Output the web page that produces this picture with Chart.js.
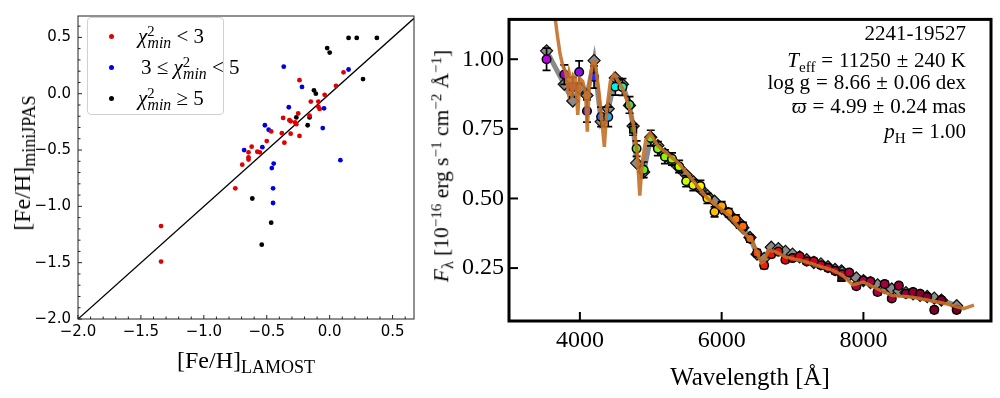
<!DOCTYPE html>
<html><head><meta charset="utf-8">
<script src="https://cdn.jsdelivr.net/npm/chart.js@4"></script>
<style>
html,body{margin:0;padding:0;background:#fff;width:1000px;height:398px;overflow:hidden;}
#c1{position:absolute;left:0;top:0;}
#c2{position:absolute;left:420px;top:0;}
.ov{position:absolute;white-space:nowrap;font-family:'Liberation Serif',serif;color:#000;line-height:1;}
.ov sub{font-size:0.75em;vertical-align:-0.3em;line-height:0;}
.ov sup{font-size:0.7em;vertical-align:0.45em;line-height:0;}
.ctr{transform:translate(-50%,-50%);}
.rot{transform:translate(-50%,-50%) rotate(-90deg);}
#legend{position:absolute;left:87px;top:17px;width:135px;height:96px;border:1px solid #d0d0d0;border-radius:4px;background:rgba(255,255,255,0.85);}
.dot{position:absolute;width:5px;height:5px;border-radius:50%;}
.rl{position:absolute;right:34px;font-family:'Liberation Serif',serif;font-size:21px;white-space:nowrap;line-height:1;}
.rl sub{font-size:0.72em;vertical-align:-0.3em;line-height:0;}
.op{margin:0 0.28em;}
</style></head><body>
<canvas id="c1" width="440" height="398"></canvas>
<canvas id="c2" width="580" height="398"></canvas>

<div class="ov rot" style="left:22px;top:163px;font-size:24px;">[Fe/H]<sub>miniJPAS</sub></div>
<div class="ov ctr" style="left:246px;top:360px;font-size:24px;">[Fe/H]<sub>LAMOST</sub></div>
<div id="legend">
  <div class="dot" style="left:21px;top:16px;background:#e00000"></div>
  <div class="ov" style="left:50px;top:8px;font-size:21px;"><i>χ</i><sup>2</sup><sub style="margin-left:-0.45em"><i>min</i></sub> &lt; 3</div>
  <div class="dot" style="left:21px;top:47px;background:#0000e0"></div>
  <div class="ov" style="left:53px;top:39px;font-size:21px;">3 ≤ <i>χ</i><sup>2</sup><sub style="margin-left:-0.45em"><i>min</i></sub> &lt; 5</div>
  <div class="dot" style="left:21px;top:78px;background:#000"></div>
  <div class="ov" style="left:50px;top:70px;font-size:21px;"><i>χ</i><sup>2</sup><sub style="margin-left:-0.45em"><i>min</i></sub> ≥ 5</div>
</div>

<div class="ov rot" style="left:442px;top:166px;font-size:21.5px;"><i>F</i><sub>λ</sub> [10<sup>−16</sup> erg s<sup>−1</sup> cm<sup>−2</sup> Å<sup>−1</sup>]</div>
<div class="ov ctr" style="left:750px;top:376px;font-size:25px;">Wavelength [Å]</div>

<div class="rl" style="top:23px;">2241-19527</div>
<div class="rl" style="top:50px;"><i>T</i><sub>eff</sub><span class="op">=</span>11250<span class="op">±</span>240 K</div>
<div class="rl" style="top:72px;">log g<span class="op">=</span>8.66<span class="op">±</span>0.06 dex</div>
<div class="rl" style="top:96px;"><i>ϖ</i><span class="op">=</span>4.99<span class="op">±</span>0.24 mas</div>
<div class="rl" style="top:121px;"><i>p</i><sub>H</sub><span class="op">=</span>1.00</div>

<script>
// ---------- Left panel data ----------
const lamostTicks = [-2.0, -1.5, -1.0, -0.5, 0.0, 0.5];
const minijpasTicks = [-2.0, -1.5, -1.0, -0.5, 0.0, 0.5];
const oneToOne = [-2.0, 0.67];

const lowChiLamost   = [0.11,-0.24,0.05,-0.04,-0.15,-0.09,-0.09,-0.08,-0.16,-0.25,-0.37,-0.32,-0.31,-0.275,-0.265,-0.38,-0.31,-0.24,-0.465,-0.50,-0.36,-0.62,-0.575,-0.555,-0.645,-0.645,-0.645,-0.695,-0.75,-1.34,-1.34];
const lowChiMiniJPAS = [0.19,0.12,0.07,-0.01,-0.07,-0.07,-0.115,-0.135,-0.195,-0.175,-0.215,-0.235,-0.245,-0.255,-0.27,-0.35,-0.355,-0.375,-0.335,-0.42,-0.435,-0.47,-0.515,-0.52,-0.52,-0.565,-0.585,-0.63,-0.84,-1.175,-1.49];
const midChiLamost   = [0.15,-0.365,-0.22,-0.325,-0.045,-0.515,-0.485,-0.055,-0.535,-0.68,0.085,-0.445,-0.46,-0.45,-0.45];
const midChiMiniJPAS = [0.215,0.24,0.06,-0.12,-0.13,-0.28,-0.32,-0.305,-0.475,-0.50,-0.59,-0.62,-0.66,-0.84,-0.97];
const highChiLamost   = [0.15,0.215,0.375,-0.02,0.0,0.265,-0.125,-0.11,-0.265,-0.16,-0.175,-0.615,-0.465,-0.54];
const highChiMiniJPAS = [0.495,0.495,0.495,0.405,0.365,0.13,0.03,0.0,-0.21,-0.21,-0.28,-0.93,-1.145,-1.34];

// ---------- Right panel data ----------
const waveTicks = [4000, 6000, 8000];
const fluxTicks = [0.25, 0.50, 0.75, 1.00];
const obsWave = [3530,3780,3900,3990,4100,4200,4300,4400,4500,4600,4700,4800,4900,5000,5100,5200,5300,5400,5500,5600,5700,5800,5900,6000,6100,6200,6300,6400,6500,6600,6700,6800,6900,7000,7100,7200,7300,7400,7500,7600,7700,7800,7900,8000,8100,8200,8300,8400,8500,8600,8700,8800,8900,9000,9100,9316];
const obsFlux = [1.00,0.945,0.90,0.954,0.814,0.936,0.793,0.793,0.901,0.90,0.836,0.679,0.603,0.717,0.679,0.65,0.642,0.615,0.562,0.548,0.545,0.50,0.452,0.473,0.449,0.426,0.40,0.356,0.304,0.26,0.30,0.309,0.28,0.286,0.292,0.274,0.274,0.26,0.251,0.24,0.228,0.234,0.185,0.205,0.202,0.164,0.193,0.141,0.187,0.158,0.164,0.158,0.146,0.10,0.135,0.10];
const obsErr = [0.04,0.035,0.035,0.04,0.04,0.04,0.035,0.035,0.03,0.03,0.03,0.028,0.028,0.028,0.025,0.025,0.022,0.022,0.02,0.02,0.02,0.018,0.018,0.016,0.015,0.015,0.014,0.013,0.012,0.012,0.012,0.01,0.01,0.01,0.01,0.01,0.01,0.01,0.01,0.01,0.01,0.01,0.01,0.01,0.01,0.01,0.01,0.01,0.01,0.01,0.01,0.01,0.01,0.01,0.01,0.01];
const broadWave = [4751, 6258, 7690];
const broadFlux = [0.747, 0.405, 0.215];
const broadErr = [0.02, 0.01, 0.01];
const synthWave = [3530,3780,3900,4000,4100,4200,4300,4400,4500,4600,4700,4751,4800,4900,5000,5100,5200,5300,5400,5500,5600,5700,5800,5900,6000,6100,6200,6258,6300,6400,6500,6600,6700,6800,6900,7000,7100,7200,7300,7400,7500,7600,7690,7700,7800,7900,8000,8100,8200,8300,8400,8500,8600,8700,8800,8900,9000,9100,9316];
const synthFlux = [1.03,0.91,0.85,0.895,0.87,0.995,0.776,0.822,0.933,0.91,0.834,0.76,0.627,0.595,0.72,0.69,0.66,0.635,0.61,0.585,0.56,0.535,0.51,0.49,0.465,0.445,0.42,0.41,0.395,0.36,0.30,0.285,0.325,0.32,0.31,0.30,0.29,0.28,0.27,0.265,0.255,0.245,0.24,0.235,0.225,0.215,0.205,0.198,0.19,0.18,0.175,0.168,0.162,0.158,0.152,0.148,0.142,0.135,0.115];
const modelWave = [3640,3680,3720,3760,3800,3830,3850,3870,3889,3910,3940,3970,4000,4040,4080,4105,4130,4180,4215,4260,4310,4345,4380,4430,4480,4520,4600,4690,4760,4810,4845,4880,4930,4990,5100,5400,5800,6100,6260,6440,6500,6560,6600,6660,6750,6900,7170,7400,7560,7700,7850,8000,8200,8400,8700,9025,9200,9414,9560];
const modelFlux = [1.17,1.09,1.02,0.975,0.955,0.90,0.95,0.93,0.86,0.94,0.93,0.80,0.93,0.92,0.88,0.74,0.90,0.99,0.99,0.90,0.78,0.685,0.82,0.92,0.945,0.93,0.895,0.835,0.76,0.66,0.51,0.63,0.71,0.735,0.69,0.625,0.50,0.44,0.39,0.345,0.305,0.27,0.275,0.315,0.31,0.29,0.274,0.255,0.243,0.225,0.19,0.20,0.175,0.152,0.145,0.129,0.12,0.104,0.117];

// ---------- helpers ----------
const zip = (xs, ys) => xs.map((x, i) => ({x, y: ys[i]}));
const colorStops = [
  [3500,190,0,230],[3800,150,0,220],[4000,130,20,230],[4100,80,30,230],[4200,40,40,255],
  [4300,40,110,240],[4400,40,170,240],[4500,0,240,240],[4600,40,240,170],[4700,60,220,90],
  [4800,90,230,40],[5000,110,240,20],[5300,150,250,0],[5500,200,255,0],[5700,255,240,0],
  [5900,255,190,0],[6100,255,140,0],[6400,255,90,0],[6600,240,30,10],[7000,220,0,20],
  [7600,190,0,50],[8200,170,0,70],[9000,130,0,40],[9400,110,0,30]];
function waveColor(w, k = 1) {
  let a = colorStops[0], b = colorStops[colorStops.length - 1];
  for (let i = 0; i < colorStops.length - 1; i++) {
    if (w >= colorStops[i][0] && w <= colorStops[i+1][0]) { a = colorStops[i]; b = colorStops[i+1]; break; }
  }
  const t = b[0] === a[0] ? 0 : Math.min(1, Math.max(0, (w - a[0]) / (b[0] - a[0])));
  const c = [1,2,3].map(j => Math.round((a[j] + (b[j] - a[j]) * t) * k));
  return `rgb(${c[0]},${c[1]},${c[2]})`;
}
const fmtMinus = v => (v < 0 ? '\u2212' : '') + Math.abs(v).toFixed(1);

const framePlugin = {
  id: 'frame',
  afterDatasetsDraw(chart, args, o) {
    const {ctx, chartArea: a, scales} = chart;
    ctx.save();
    ctx.strokeStyle = o.color; ctx.lineWidth = o.tickWidth;
    const draw = (axis, vals, len) => vals.forEach(v => {
      ctx.beginPath();
      if (axis === 'x') { const p = scales.x.getPixelForValue(v); ctx.moveTo(p, a.bottom); ctx.lineTo(p, a.bottom - len); }
      else { const p = scales.y.getPixelForValue(v); ctx.moveTo(a.left, p); ctx.lineTo(a.left + len, p); }
      ctx.stroke();
    });
    draw('x', o.xMajor, o.majorLen); draw('y', o.yMajor, o.majorLen);
    draw('x', o.xMinor || [], o.minorLen); draw('y', o.yMinor || [], o.minorLen);
    ctx.lineWidth = o.width;
    ctx.strokeRect(a.left, a.top, a.right - a.left, a.bottom - a.top);
    ctx.restore();
  }
};
const errPlugin = {
  id: 'errbars',
  beforeDatasetDraw(chart, args) {
    const ds = chart.data.datasets[args.index];
    if (!ds.errors) return;
    const {ctx, chartArea: a, scales: {x, y}} = chart;
    ctx.save();
    ctx.beginPath(); ctx.rect(a.left, a.top, a.right - a.left, a.bottom - a.top); ctx.clip();
    ctx.strokeStyle = '#000'; ctx.lineWidth = 1.7;
    ds.data.forEach((p, i) => {
      const e = ds.errors[i];
      const px = x.getPixelForValue(p.x), y1 = y.getPixelForValue(p.y - e), y2 = y.getPixelForValue(p.y + e);
      ctx.beginPath();
      ctx.moveTo(px, y1); ctx.lineTo(px, y2);
      ctx.moveTo(px - 4, y1); ctx.lineTo(px + 4, y1);
      ctx.moveTo(px - 4, y2); ctx.lineTo(px + 4, y2);
      ctx.stroke();
    });
    ctx.restore();
  }
};

const minorL = [];
for (let v = -1.9; v < 0.65; v += 0.1) { const r = Math.round(v * 10) / 10; if (Math.abs(r * 2 - Math.round(r * 2)) > 1e-6) minorL.push(r); }

// ---------- Left chart ----------
new Chart(document.getElementById('c1'), {
  type: 'scatter',
  data: { datasets: [
    { data: zip(lowChiLamost, lowChiMiniJPAS), backgroundColor: '#e00000', borderWidth: 0, pointRadius: 2.4 },
    { data: zip(midChiLamost, midChiMiniJPAS), backgroundColor: '#0000e0', borderWidth: 0, pointRadius: 2.4 },
    { data: zip(highChiLamost, highChiMiniJPAS), backgroundColor: '#000', borderWidth: 0, pointRadius: 2.4 },
    { type: 'line', data: zip(oneToOne, oneToOne), borderColor: '#000', borderWidth: 1.3, pointRadius: 0, fill: false }
  ]},
  plugins: [framePlugin],
  options: {
    responsive: false, animation: false,
    layout: { padding: { top: 7, right: 26, left: 0, bottom: 0 } },
    plugins: { legend: { display: false }, tooltip: { enabled: false },
      frame: { color: '#222', width: 1, tickWidth: 1, majorLen: 4, minorLen: 2.5,
        xMajor: lamostTicks, yMajor: minijpasTicks, xMinor: minorL, yMinor: minorL } },
    scales: {
      x: { type: 'linear', min: -2.0, max: 0.67,
        afterFit: s => { s.height = 79; },
        afterBuildTicks: s => { s.ticks = lamostTicks.map(v => ({value: v})); },
        grid: { display: false, drawTicks: false }, border: { display: false },
        ticks: { color: '#000', padding: 4, maxRotation: 0, autoSkip: false, font: { family: 'DejaVu Sans', size: 15 }, callback: v => fmtMinus(v) } },
      y: { type: 'linear', min: -2.0, max: 0.69,
        afterFit: s => { s.width = 78; },
        afterBuildTicks: s => { s.ticks = minijpasTicks.map(v => ({value: v})); },
        grid: { display: false, drawTicks: false }, border: { display: false },
        ticks: { color: '#000', padding: 7, autoSkip: false, font: { family: 'DejaVu Sans', size: 15 }, callback: v => fmtMinus(v) } }
    }
  }
});

// ---------- Right chart ----------
new Chart(document.getElementById('c2'), {
  type: 'scatter',
  data: { datasets: [
    { type: 'line', order: 0, data: zip(modelWave, modelFlux), borderColor: 'rgba(196,112,40,0.9)', borderWidth: 3.5, pointRadius: 0, tension: 0, fill: false },
    { order: 1, data: zip(obsWave, obsFlux), errors: obsErr, pointStyle: 'circle', pointRadius: 4.3,
      backgroundColor: c => waveColor(c.raw.x), borderColor: '#000', borderWidth: 1.5 },
    { order: 1, data: zip(broadWave, broadFlux), errors: broadErr, pointStyle: 'rect', pointRadius: 4.8,
      backgroundColor: c => waveColor(c.raw.x, 0.55), borderColor: '#000', borderWidth: 1.5 },
    { order: 2, data: zip(synthWave, synthFlux), pointStyle: 'rectRot', pointRadius: 6,
      backgroundColor: '#8a8a8a', borderColor: '#111', borderWidth: 1.3 },
    { type: 'line', order: 3, data: zip(synthWave, synthFlux), borderColor: '#8a8a8a', borderWidth: 5, pointRadius: 0, tension: 0, fill: false }
  ]},
  plugins: [errPlugin, framePlugin],
  options: {
    responsive: false, animation: false,
    layout: { padding: { top: 12, right: 9, left: 0, bottom: 0 } },
    plugins: { legend: { display: false }, tooltip: { enabled: false },
      frame: { color: '#000', width: 3, tickWidth: 2, majorLen: 9, xMajor: waveTicks, yMajor: fluxTicks } },
    scales: {
      x: { type: 'linear', min: 3000, max: 9800,
        afterFit: s => { s.height = 77; },
        afterBuildTicks: s => { s.ticks = waveTicks.map(v => ({value: v})); },
        grid: { display: false, drawTicks: false }, border: { display: false },
        ticks: { color: '#000', padding: 5, maxRotation: 0, autoSkip: false, font: { family: 'Liberation Serif', size: 24 }, callback: v => String(v) } },
      y: { type: 'linear', min: 0.06, max: 1.143,
        afterFit: s => { s.width = 89; },
        afterBuildTicks: s => { s.ticks = fluxTicks.map(v => ({value: v})); },
        grid: { display: false, drawTicks: false }, border: { display: false },
        ticks: { color: '#000', padding: 5, autoSkip: false, font: { family: 'Liberation Serif', size: 24 }, callback: v => v.toFixed(2) } }
    }
  }
});
</script>
</body></html>
